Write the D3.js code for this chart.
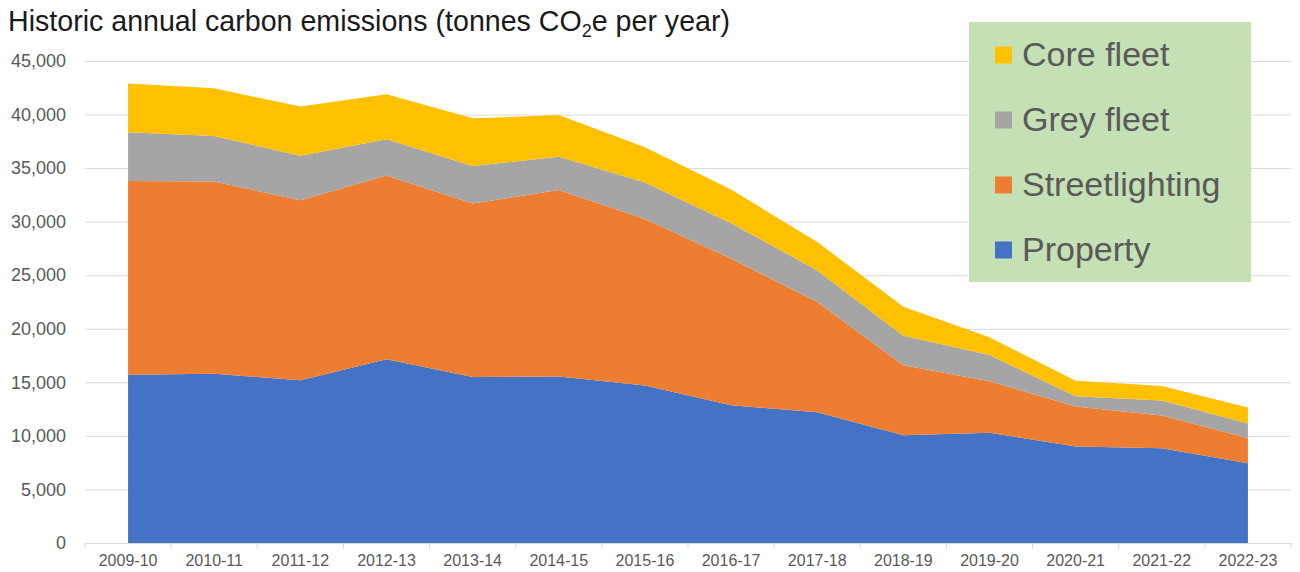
<!DOCTYPE html>
<html>
<head>
<meta charset="utf-8">
<script src="https://cdn.jsdelivr.net/npm/d3@7"></script>
<style>
  body { margin: 0; background: #fff; }
  text { font-family: "Liberation Sans", Arial, sans-serif; }
</style>
</head>
<body>
<div id="chart"></div>
<script>
var years = ["2009-10", "2010-11", "2011-12", "2012-13", "2013-14", "2014-15", "2015-16",
             "2016-17", "2017-18", "2018-19", "2019-20", "2020-21", "2021-22", "2022-23"];
var property       = [15700, 15800, 15200, 17150, 15500, 15550, 14700, 12850, 12200, 10050, 10300, 9000, 8850, 7450];
var streetlighting = [18100, 17950, 16800, 17150, 16200, 17400, 15550, 13700, 10300, 6550, 4800, 3750, 3050, 2350];
var greyFleet      = [4550, 4250, 4150, 3400, 3500, 3100, 3400, 3300, 2950, 2750, 2450, 950, 1400, 1350];
var coreFleet      = [4550, 4450, 4600, 4200, 4450, 3900, 3300, 3150, 2650, 2700, 1650, 1450, 1350, 1500];

var seriesNames = ["Property", "Streetlighting", "Grey fleet", "Core fleet"];
var seriesColors = ["#4472c4", "#ed7d31", "#a5a5a5", "#ffc000"];
var yTicks = [0, 5000, 10000, 15000, 20000, 25000, 30000, 35000, 40000, 45000];

var width = 1300, height = 572;
var plotLeft = 85, plotRight = 1291, plotTop = 61, plotBottom = 543;

var rows = years.map(function(y, i) {
  return {
    year: y,
    "Property": property[i],
    "Streetlighting": streetlighting[i],
    "Grey fleet": greyFleet[i],
    "Core fleet": coreFleet[i]
  };
});

var svg = d3.select("#chart").append("svg")
  .attr("width", width)
  .attr("height", height);

var x = d3.scaleBand().domain(years).range([plotLeft, plotRight]);
var y = d3.scaleLinear().domain([0, 45000]).range([plotBottom, plotTop]);
var color = d3.scaleOrdinal().domain(seriesNames).range(seriesColors);

function cx(year) { return x(year) + x.bandwidth() / 2; }

// gridlines + y labels
var yAxis = svg.append("g")
  .attr("transform", "translate(" + plotLeft + ",0)")
  .call(d3.axisLeft(y)
    .tickValues(yTicks)
    .tickFormat(d3.format(","))
    .tickSize(-(plotRight - plotLeft))
    .tickPadding(19));
yAxis.select(".domain").remove();
yAxis.selectAll(".tick line").attr("stroke", "#d9d9d9").attr("stroke-width", 1);
yAxis.selectAll(".tick text")
  .attr("fill", "#595959")
  .style("font-size", "18px")
  .style("font-family", "'Liberation Sans', Arial, sans-serif");

// stacked areas
var stack = d3.stack().keys(seriesNames);
var layers = stack(rows);

var area = d3.area()
  .x(function(d) { return cx(d.data.year); })
  .y0(function(d) { return y(d[0]); })
  .y1(function(d) { return y(d[1]); });

svg.append("g")
  .selectAll("path")
  .data(layers)
  .enter().append("path")
    .attr("d", area)
    .attr("fill", function(d) { return color(d.key); });

// x axis
var xAxis = svg.append("g")
  .attr("transform", "translate(0," + plotBottom + ")")
  .call(d3.axisBottom(x).tickSize(0).tickPadding(12));
xAxis.select(".domain").attr("stroke", "#d9d9d9");
xAxis.selectAll(".tick text")
  .attr("fill", "#595959")
  .style("font-size", "16px")
  .style("font-family", "'Liberation Sans', Arial, sans-serif");

// tick marks between categories
var edges = years.map(function(d) { return x(d); }).concat([x.range()[1]]);
svg.append("g")
  .selectAll("line")
  .data(edges)
  .enter().append("line")
    .attr("x1", function(d) { return d; })
    .attr("x2", function(d) { return d; })
    .attr("y1", plotBottom)
    .attr("y2", plotBottom + 6)
    .attr("stroke", "#d9d9d9");

// title
var title = svg.append("text")
  .attr("x", 8)
  .attr("y", 31)
  .attr("fill", "#1a1a1a")
  .style("font-size", "28.6px");
title.append("tspan").text("Historic annual carbon emissions (tonnes CO");
title.append("tspan").attr("dy", 6).style("font-size", "18px").text("2");
title.append("tspan").attr("dy", -6).text("e per year)");

// legend
var legend = svg.append("g");
legend.append("rect")
  .attr("x", 969)
  .attr("y", 22)
  .attr("width", 282)
  .attr("height", 260)
  .attr("fill", "#c5e0b4");

var legendItems = legend.selectAll("g.item")
  .data(seriesNames.slice().reverse())
  .enter().append("g")
    .attr("class", "item")
    .attr("transform", function(d, i) { return "translate(0," + (55 + i * 65) + ")"; });

legendItems.append("rect")
  .attr("x", 995)
  .attr("y", -8.5)
  .attr("width", 17)
  .attr("height", 17)
  .attr("fill", function(d) { return color(d); });

legendItems.append("text")
  .attr("x", 1022)
  .attr("y", 11)
  .attr("fill", "#595959")
  .style("font-size", "34px")
  .text(function(d) { return d; });
</script>
</body>
</html>
